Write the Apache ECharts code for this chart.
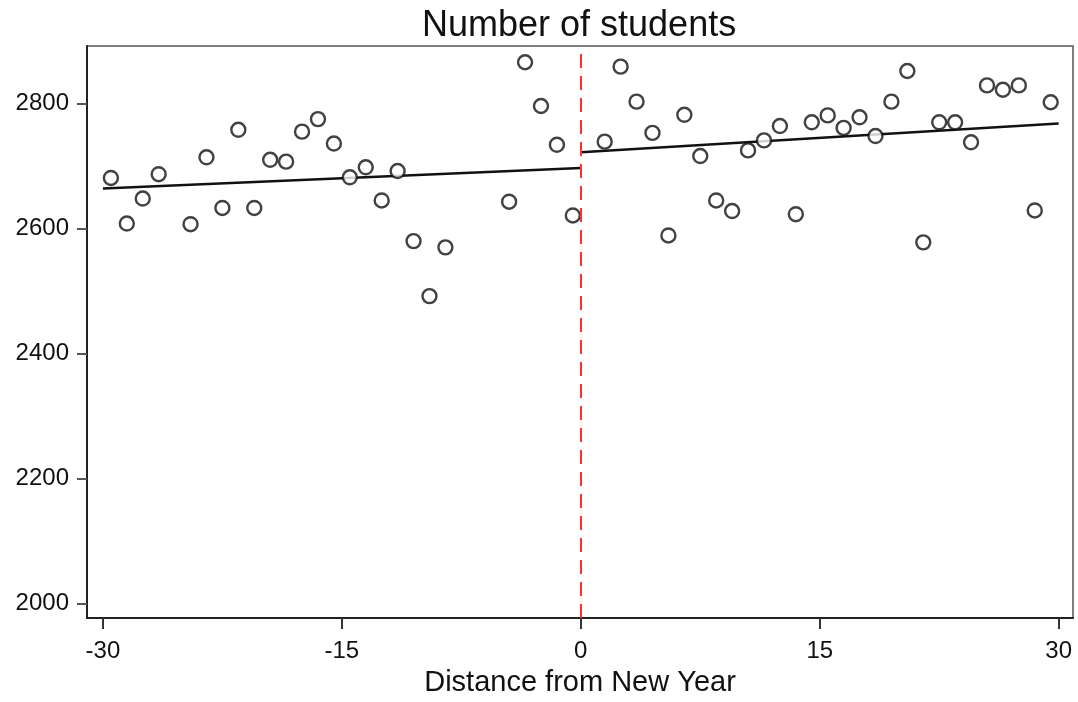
<!DOCTYPE html>
<html>
<head>
<meta charset="utf-8">
<script src="https://cdn.jsdelivr.net/npm/echarts@6/dist/echarts.min.js"></script>
<style>
  html, body { margin: 0; padding: 0; background: #fff; }
  #chart { width: 1078px; height: 702px; }
</style>
</head>
<body>
<div id="chart"></div>
<script>
// distance from New Year (days) and number of students
const days = [
  -29.5, -28.5, -27.5, -26.5, -24.5, -23.5, -22.5, -21.5, -20.5, -19.5,
  -18.5, -17.5, -16.5, -15.5, -14.5, -13.5, -12.5, -11.5, -10.5, -9.5,
  -8.5, -4.5, -3.5, -2.5, -1.5, -0.5,
  1.5, 2.5, 3.5, 4.5, 5.5, 6.5, 7.5, 8.5, 9.5, 10.5,
  11.5, 12.5, 13.5, 14.5, 15.5, 16.5, 17.5, 18.5, 19.5, 20.5,
  21.5, 22.5, 23.5, 24.5, 25.5, 26.5, 27.5, 28.5, 29.5
];
const students = [
  2681, 2608, 2648, 2687, 2607, 2714, 2633, 2758, 2633, 2710,
  2707, 2755, 2775, 2736, 2682, 2698, 2645, 2692, 2580, 2492,
  2570, 2643, 2866, 2796, 2734, 2621,
  2739, 2859, 2803, 2753, 2589, 2782, 2716, 2645, 2628, 2725,
  2741, 2764, 2623, 2770, 2781, 2761, 2778, 2748, 2803, 2852,
  2578, 2770, 2770, 2738, 2829, 2822, 2829, 2629, 2802
];
// linear fits before and after New Year
const fitBeforeX = [-30, 0];
const fitBeforeY = [2664, 2697];
const fitAfterX = [0, 30];
const fitAfterY = [2722, 2768];

const xTicks = [-30, -15, 0, 15, 30];
const yTicks = [2000, 2200, 2400, 2600, 2800];
const cutoff = 0;

const font = "'Liberation Sans', Arial, sans-serif";
const chart = echarts.init(document.getElementById("chart"));

const points = days.map((d, i) => [d, students[i]]);
const pair = (xs, ys) => xs.map((x, i) => [x, ys[i]]);

chart.setOption({
  animation: false,
  title: {
    text: "Number of students",
    left: 422,
    top: 8,
    padding: 0,
    textAlign: "left",
    textStyle: { fontFamily: font, fontSize: 36, fontWeight: "normal", color: "#111" },
  },
  grid: {
    left: 87,
    right: 5,
    top: 46,
    bottom: 79,
    show: true,
    borderColor: "#555",
    borderWidth: 1.5,
  },
  xAxis: {
    type: "value",
    min: -31,
    max: 30.9,
    name: "Distance from New Year",
    nameLocation: "middle",
    nameGap: 49,
    nameTextStyle: { fontFamily: font, fontSize: 29, color: "#111" },
    axisLine: { onZero: false, lineStyle: { color: "#222", width: 2 } },
    axisTick: { customValues: xTicks, length: 11, lineStyle: { color: "#333", width: 2 } },
    axisLabel: { customValues: xTicks, margin: 21, fontFamily: font, fontSize: 24, color: "#111",
      formatter: (v) => String(v) },
    splitLine: { show: false },
  },
  yAxis: {
    type: "value",
    min: 1977,
    max: 2892,
    axisLine: { show: true, onZero: false, lineStyle: { color: "#222", width: 2 } },
    axisTick: { show: true, customValues: yTicks, length: 10, lineStyle: { color: "#555", width: 2 } },
    axisLabel: { customValues: yTicks, margin: 18, fontFamily: font, fontSize: 24, color: "#111",
      formatter: (v) => String(v) },
    splitLine: { show: false },
  },
  series: [
    {
      type: "line",
      data: pair(fitBeforeX, fitBeforeY),
      symbol: "none",
      lineStyle: { color: "#111", width: 2.5 },
      z: 3,
    },
    {
      type: "line",
      data: pair(fitAfterX, fitAfterY),
      symbol: "none",
      lineStyle: { color: "#111", width: 2.5 },
      z: 3,
      markLine: {
        silent: true,
        symbol: "none",
        label: { show: false },
        lineStyle: { color: "#ff3030", width: 2, type: [14, 8] },
        data: [{ xAxis: cutoff }],
      },
    },
    {
      type: "scatter",
      data: points,
      symbol: "circle",
      symbolSize: 14,
      itemStyle: { color: "#fff", borderColor: "#111", borderWidth: 2.4 },
      z: 4,
    },
  ],
});
</script>
</body>
</html>
